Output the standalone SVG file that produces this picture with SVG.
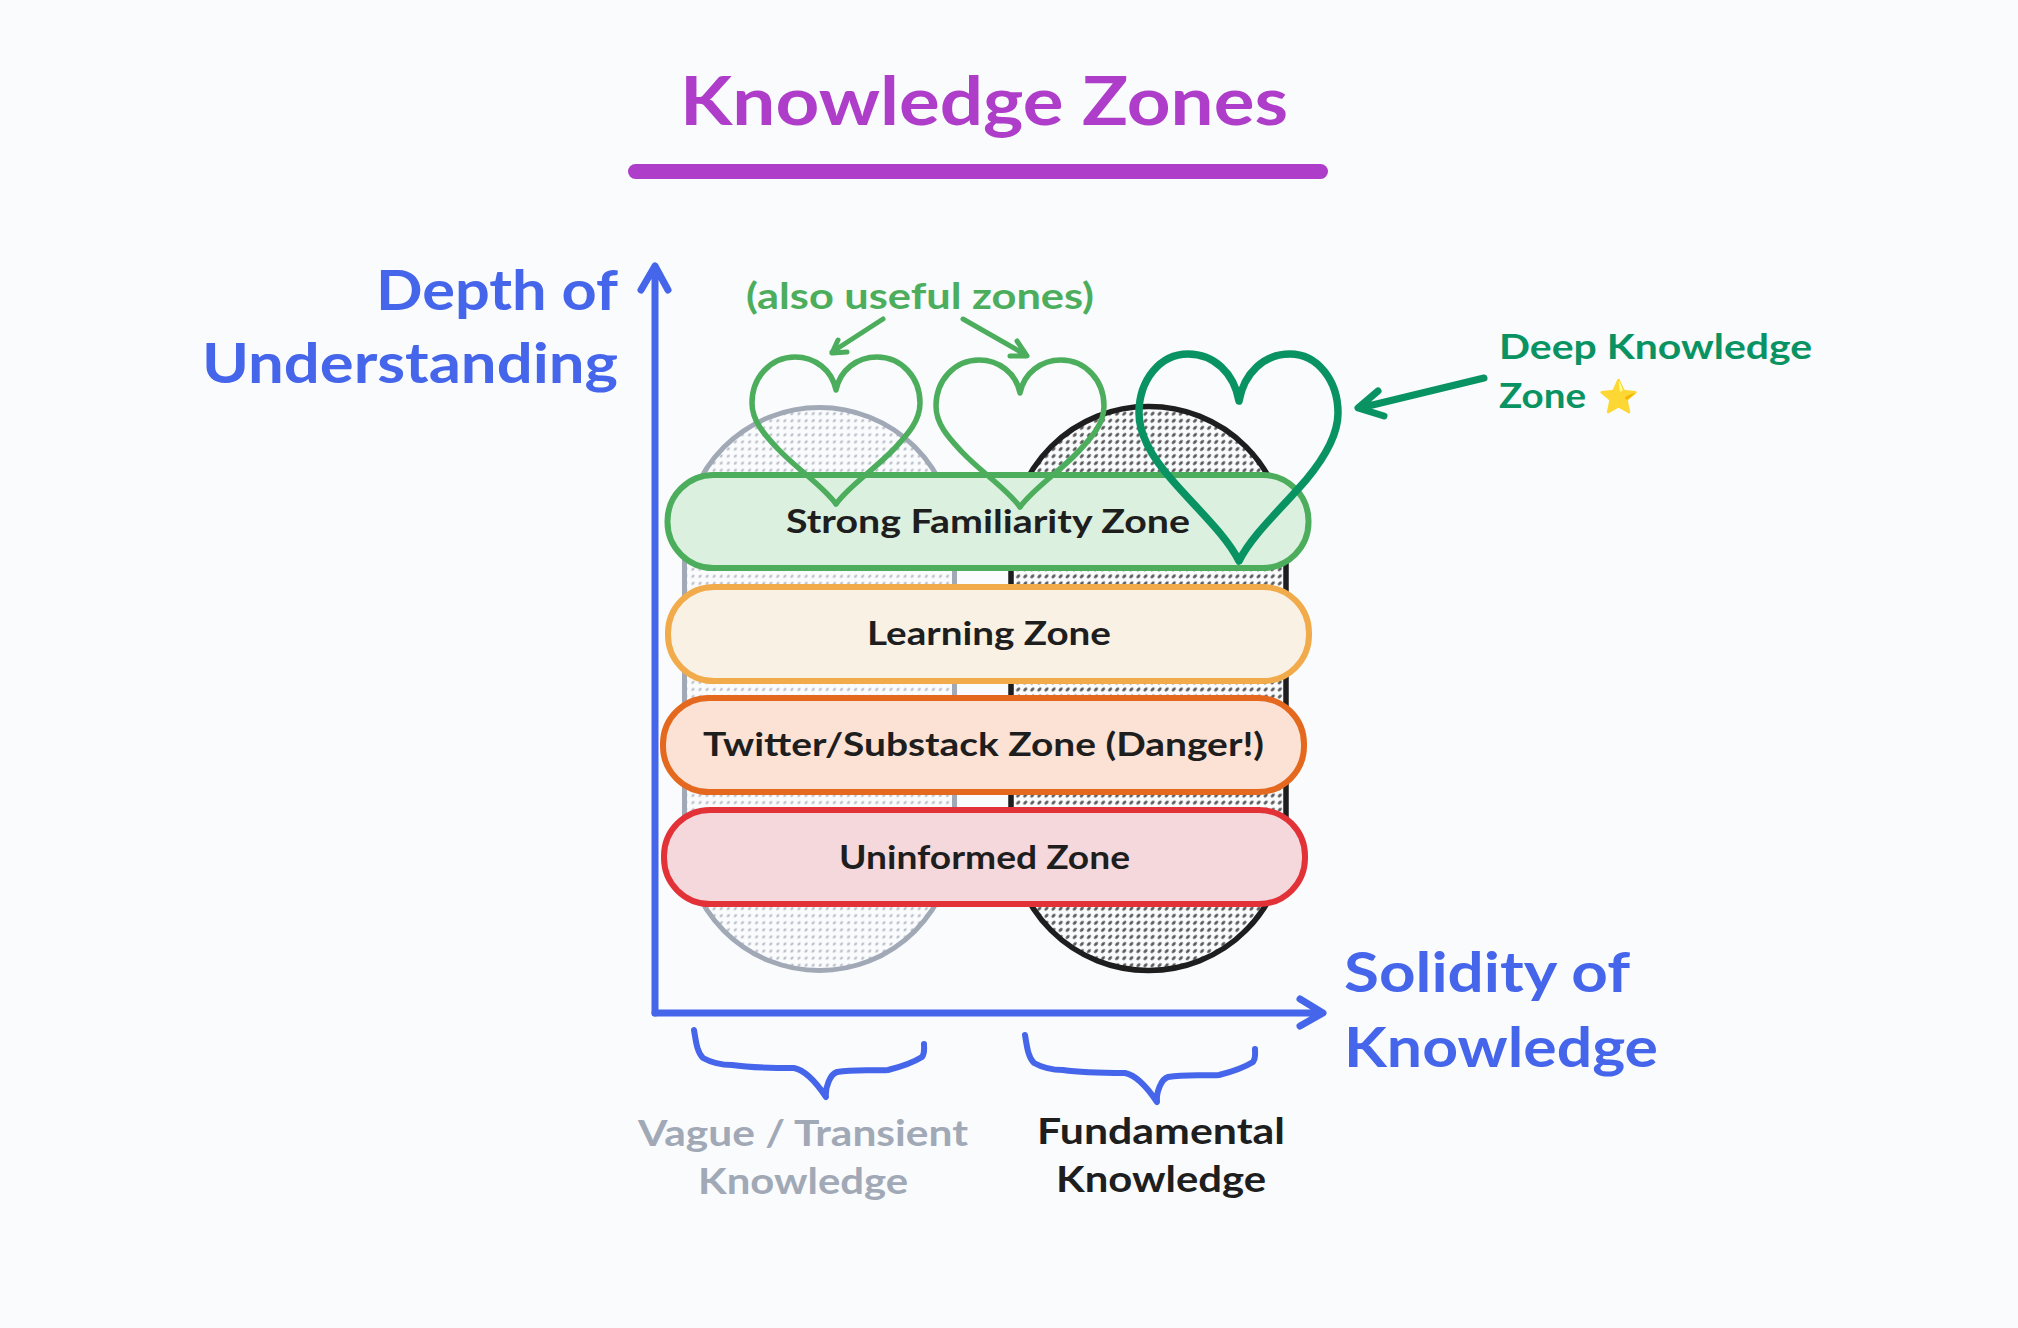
<svg xmlns="http://www.w3.org/2000/svg" width="2018" height="1328" viewBox="0 0 2018 1328">
<style>
text{font-family:"Lato","Noto Sans",sans-serif;font-weight:700}
.band{stroke-width:6}
.b{fill:#1e1e1e;font-size:33px}
.ax{fill:#4565ea;font-size:56px}
.line{fill:none;stroke-linecap:round;stroke-linejoin:round}
.blue{stroke:#4565ea}
.heart{fill:none;stroke-linejoin:round}
</style>
<defs>
<pattern id="pg" width="10" height="10" patternUnits="userSpaceOnUse" patternTransform="rotate(45)">
<rect width="10" height="10" fill="#fafbfd"/><ellipse cx="2.5" cy="2.5" rx="1.1" ry="2.1" fill="#b4bac5"/><ellipse cx="7.5" cy="7.5" rx="1.1" ry="2.1" fill="#b4bac5"/>
</pattern>
<pattern id="pk" width="10" height="10" patternUnits="userSpaceOnUse" patternTransform="rotate(45)">
<rect width="10" height="10" fill="#fafbfd"/><ellipse cx="2.5" cy="2.5" rx="1.4" ry="2.5" fill="#555"/><ellipse cx="7.5" cy="7.5" rx="1.4" ry="2.5" fill="#555"/>
</pattern>
</defs>
<rect width="2018" height="1328" fill="#f9fbfd"/>
<g id="title"><text x="680" y="125" font-size="66" fill="#ae3ec9" textLength="608" lengthAdjust="spacingAndGlyphs">Knowledge Zones</text>
<rect x="628" y="164" width="700" height="15" rx="7.5" fill="#ae3ec9"/></g>
<g id="oval-vague"><rect x="684.5" y="407.5" width="270" height="563" rx="135" fill="url(#pg)" stroke="#a1a9b6" stroke-width="5"/></g>
<g id="oval-fundamental"><rect x="1011" y="406.5" width="275" height="564" rx="137" fill="url(#pk)" stroke="#1e1e1e" stroke-width="5.5"/></g>
<g id="zone-strong"><rect class="band" x="667.5" y="475" width="641" height="93" rx="46" fill="#dcf0e0" stroke="#4cad5c"/><text class="b" x="786" y="533" textLength="404" lengthAdjust="spacingAndGlyphs">Strong Familiarity Zone</text></g>
<g id="zone-learning"><rect class="band" x="668" y="587" width="641" height="94" rx="46" fill="#faf1e5" stroke="#f2ab4b"/><text class="b" x="867" y="645" textLength="244" lengthAdjust="spacingAndGlyphs">Learning Zone</text></g>
<g id="zone-twitter"><rect class="band" x="663" y="698" width="641" height="94" rx="46" fill="#fbe2d5" stroke="#e4691f"/><text class="b" x="703" y="756" textLength="561" lengthAdjust="spacingAndGlyphs">Twitter/Substack Zone (Danger!)</text></g>
<g id="zone-uninformed"><rect class="band" x="664" y="810" width="641" height="94" rx="46" fill="#f5d8dc" stroke="#e23237"/><text class="b" x="839" y="869" textLength="291" lengthAdjust="spacingAndGlyphs">Uninformed Zone</text></g>
<g id="heart-1"><path class="heart" stroke="#4cad5c" stroke-width="5.5" d="M836 390C832 370 815 357 795 357C771 357 752 377 752 403C752 422 766 436 778 449C798 470 822 485 836 504C850 485 874 470 894 449C906 436 920 422 920 403C920 377 901 357 877 357C857 357 840 370 836 390Z"/></g>
<g id="heart-2"><path class="heart" stroke="#4cad5c" stroke-width="5.5" transform="translate(184 3)" d="M836 390C832 370 815 357 795 357C771 357 752 377 752 403C752 422 766 436 778 449C798 470 822 485 836 504C850 485 874 470 894 449C906 436 920 422 920 403C920 377 901 357 877 357C857 357 840 370 836 390Z"/></g>
<g id="heart-deep"><path class="heart" stroke="#0a9362" stroke-width="7.5" d="M1239 401C1234 373 1214 354 1188 354C1160 354 1139 380 1139 413C1139 437 1156 462 1172 480C1198 510 1226 535 1239 561C1252 535 1280 510 1306 480C1321 462 1338 437 1338 413C1338 380 1317 354 1290 354C1264 354 1244 373 1239 401Z"/></g>
<g id="connectors">
<path class="line blue" stroke-width="7" d="M655 1013V267M641 290L655 266L668 290"/>
<path class="line blue" stroke-width="7" d="M655 1013H1322M1300 999L1323 1013L1300 1026"/>
<path id="brace-1" class="line blue" stroke-width="6" d="M694 1030C696 1042 697 1052 703 1058C712 1063 722 1065 732 1065C752 1068 775 1068 794 1068C804 1070 816 1082 826 1097C825 1088 830 1074 837 1072C855 1069 872 1071 888 1070C900 1067 914 1062 922 1057C925 1053 924 1049 924 1044"/>
<path id="brace-2" class="line blue" stroke-width="6" transform="translate(331 5)" d="M694 1030C696 1042 697 1052 703 1058C712 1063 722 1065 732 1065C752 1068 775 1068 794 1068C804 1070 816 1082 826 1097C825 1088 830 1074 837 1072C855 1069 872 1071 888 1070C900 1067 914 1062 922 1057C925 1053 924 1049 924 1044"/>
<path class="line" stroke="#4cad5c" stroke-width="5" d="M883 319L832 352M838 340L832 353L847 352"/>
<path class="line" stroke="#4cad5c" stroke-width="5" d="M963 319L1026 355M1017 341L1027 356L1010 356"/>
<path class="line" stroke="#0a9362" stroke-width="7" d="M1484 378L1360 408M1378 391L1358 408L1384 416"/>
</g>
<g id="label-y"><text class="ax" x="618" y="310" text-anchor="end" textLength="242" lengthAdjust="spacingAndGlyphs">Depth of</text><text class="ax" x="618" y="383" text-anchor="end" textLength="416" lengthAdjust="spacingAndGlyphs">Understanding</text></g>
<g id="label-x"><text class="ax" x="1344" y="992" textLength="286" lengthAdjust="spacingAndGlyphs">Solidity of</text><text class="ax" x="1344" y="1067" textLength="314" lengthAdjust="spacingAndGlyphs">Knowledge</text></g>
<g id="label-useful"><text x="746" y="309" font-size="36" fill="#4cad5c" textLength="348" lengthAdjust="spacingAndGlyphs">(also useful zones)</text></g>
<g id="label-deep"><text x="1499" y="359" font-size="35" fill="#0a9362" textLength="313" lengthAdjust="spacingAndGlyphs">Deep Knowledge</text><text x="1499" y="408" font-size="35" fill="#0a9362" textLength="87" lengthAdjust="spacingAndGlyphs">Zone</text><text x="1598" y="408" font-size="33" fill="#f7b32b" font-family="Noto Color Emoji, Noto Sans CJK SC, DejaVu Sans, sans-serif">⭐</text></g>
<g id="label-vague"><text x="638" y="1146" font-size="36" fill="#a1a9b6" textLength="330" lengthAdjust="spacingAndGlyphs">Vague / Transient</text><text x="698" y="1194" font-size="36" fill="#a1a9b6" textLength="210" lengthAdjust="spacingAndGlyphs">Knowledge</text></g>
<g id="label-fundamental"><text class="b" x="1037" y="1144" style="font-size:36px" textLength="248" lengthAdjust="spacingAndGlyphs">Fundamental</text><text class="b" x="1056" y="1192" style="font-size:36px" textLength="210" lengthAdjust="spacingAndGlyphs">Knowledge</text></g>
</svg>
